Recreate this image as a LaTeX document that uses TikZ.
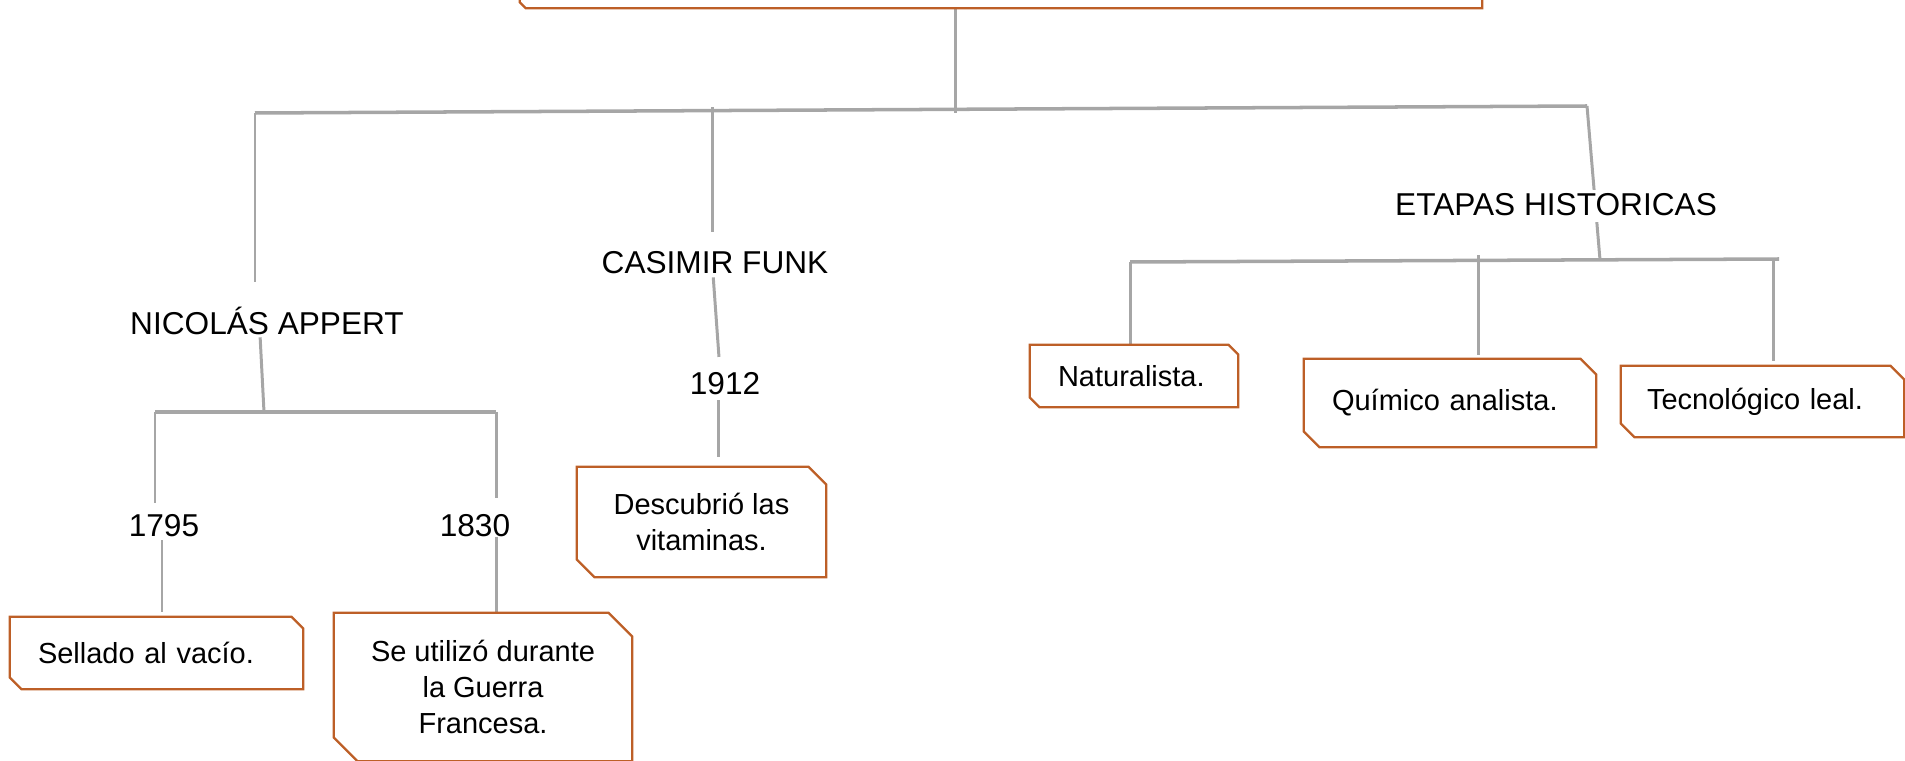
\documentclass[tikz,border=0pt]{standalone}
\usepackage{fontspec}
\setmainfont{Liberation Sans}
\definecolor{linegray}{HTML}{A6A6A6}
\definecolor{cardline}{HTML}{BD5F27}
\newcommand\lblfont{\fontsize{18pt}{21pt}\selectfont}
\newcommand\cardfont{\fontsize{16.5pt}{20.5pt}\selectfont}
% outline with the top right and bottom left corners cut off
\newcommand\snipcard[2]{\draw[cardline, line width=1.3pt, line join=miter]
  (#1.north west) -- ([xshift=-#2]#1.north east) -- ([yshift=-#2]#1.north east)
  -- (#1.south east) -- ([xshift=#2]#1.south west) -- ([yshift=#2]#1.south west) -- cycle;}

\begin{document}
\begin{tikzpicture}[x=0.02cm, y=-0.02cm,
    conn/.style={draw=linegray, line width=1.7pt},
    bar/.style={draw=linegray, line width=2pt},
    lbl/.style={font=\lblfont, inner sep=0pt, anchor=base, text height=13pt, text depth=0pt},
    card/.style={inner sep=0pt, font=\cardfont}]
		\useasboundingbox (0,0) rectangle (1905,760);
		\clip (0,0) rectangle (1905,760);
		
		%boxes
		\node[card, minimum width=19.24cm, minimum height=1.52cm] (top) at (1001,-30) {};
		\node[card, minimum height=1.44cm, inner xsep=0.56cm, text width=4.74cm, align=left] (sellado) at (156.5,653) {Sellado al vacío.};
		\node[card, minimum width=5.96cm, minimum height=2.96cm, align=center] (guerra) at (483,687) {Se utilizó durante\\la Guerra\\Francesa.};
		\node[card, minimum width=4.98cm, minimum height=2.2cm, align=center] (desc) at (701.5,522) {Descubrió las\\vitaminas.};
		\node[card, minimum height=1.24cm, inner xsep=0.56cm, text width=3.04cm, align=left] (natural) at (1134,376) {Naturalista.};
		\node[card, minimum height=1.76cm, inner xsep=0.56cm, text width=4.72cm, align=left] (quimico) at (1450,403) {Químico analista.};
		\node[card, minimum height=1.42cm, inner xsep=0.52cm, text width=4.62cm, align=left] (tecno) at (1762.5,401.5) {Tecnológico leal.};
		
		%labels
		\node[lbl] (nicolas) at (267,334.5) {NICOLÁS APPERT};
		\node[lbl] (casimir) at (715,273.5) {CASIMIR FUNK};
		\node[lbl] (y1795) at (164,536.5) {1795};
		\node[lbl] (y1830) at (475,536.5) {1830};
		\node[lbl] (y1912) at (725,394.5) {1912};
		
		%bar ends
		\coordinate (mL) at (255,113);
		\coordinate (mR) at (1587,106);
		\coordinate (mC) at (712,107);
		\coordinate (mT) at (955,113);
		\coordinate (aL) at (155,412);
		\coordinate (aC) at (264,412);
		\coordinate (aR) at (496,412);
		\coordinate (bL) at (1130,262);
		\coordinate (bM) at (1478,255);
		\coordinate (bT) at (1773,259);
		\coordinate (bR) at (1779,259);
		\coordinate (bC) at (1600,260);
		
		%main bar
		\draw[bar] (mL) -- (mR);
		\draw[conn] (top.south -| mT) -- (mT);
		
		%nicolas appert
		\draw[conn, shorten >=16.7pt] (mL) -- (mL |- nicolas.north);
		\draw[conn, shorten <=1.4pt] ([xshift=-0.14cm]nicolas.south) -- (aC);
		\draw[bar] (aL) -- (aR);
		\draw[conn, shorten >=6pt] (aL) -- (aL |- y1795.north);
		\draw[conn, shorten <=2pt, shorten >=2.8pt] ([xshift=-0.04cm]y1795.south) -- ([xshift=-0.04cm]y1795.south |- sellado.north);
		\draw[conn, shorten >=8.8pt] (aR) -- (aR |- y1830.north);
		\draw[conn] (aR |- y1830.south) -- (aR |- guerra.north);
		
		%casimir funk
		\draw[conn, shorten >=10.5pt] (mC) -- (mC |- casimir.north);
		\draw[conn, shorten <=2pt, shorten >=8.2pt] ([xshift=-0.04cm]casimir.south) -- ([xshift=-0.1cm]y1912.north);
		\draw[conn, shorten <=3.1pt, shorten >=5.7pt] ([xshift=-0.14cm]y1912.south) -- ([xshift=-0.14cm]y1912.south |- desc.north);
		
		%etapas historicas
		\draw[conn] (mR) -- (bC);
		\node[lbl, fill=white, text height=14pt, text depth=4pt] (etapas) at (1556,215) {ETAPAS HISTORICAS};
		\draw[bar] (bL) -- (bR);
		\draw[conn] (bL) -- (bL |- natural.north);
		\draw[conn, shorten >=2.3pt] (bM) -- (bM |- quimico.north);
		\draw[conn, shorten >=2.8pt] (bT) -- (bT |- tecno.north);
		
		%outlines
		\snipcard{top}{0.12cm}
		\snipcard{sellado}{0.24cm}
		\snipcard{guerra}{0.48cm}
		\snipcard{desc}{0.36cm}
		\snipcard{natural}{0.2cm}
		\snipcard{quimico}{0.32cm}
		\snipcard{tecno}{0.28cm}
\end{tikzpicture}
\end{document}
